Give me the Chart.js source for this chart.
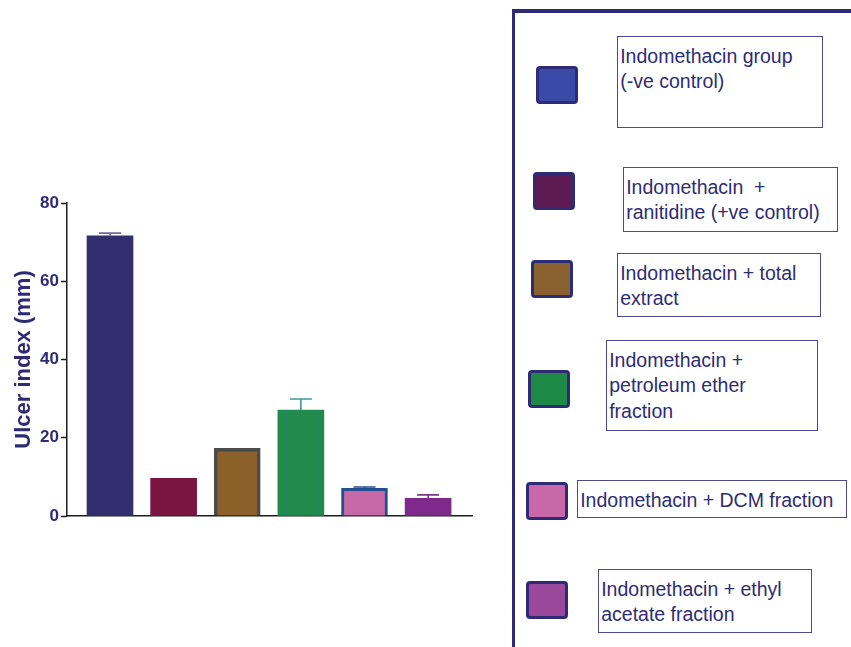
<!DOCTYPE html>
<html>
<head>
<meta charset="utf-8">
<title>Ulcer index</title>
<script src="https://cdn.jsdelivr.net/npm/chart.js@4.4.1/dist/chart.umd.min.js"></script>
<style>
  html, body { margin: 0; padding: 0; background: #fff; }
  #wrap { position: relative; width: 851px; height: 647px; overflow: hidden; }
  #chartBox { position: absolute; left: 0; top: 0; width: 500px; height: 647px; }
  .rule { position: absolute; background: #2e2a78; }
  .sw { position: absolute; box-sizing: border-box; width: 42px; height: 38px;
        border: 3.5px solid #2e2a76; border-radius: 4px; }
  .lbl { position: absolute; box-sizing: border-box; border: 1.5px solid #4b4990;
         padding: 6.6px 0 0 2.2px; font-family: "Liberation Sans", Arial, sans-serif;
         font-size: 19.5px; line-height: 25.5px; color: #2e2c72; white-space: pre; }
</style>
</head>
<body>
<div id="wrap">
  <div id="chartBox"><canvas id="chart"></canvas></div>
  <div class="rule" style="left:511.7px; top:9.3px; width:3.3px; height:640px;"></div>
  <div class="rule" style="left:511.7px; top:9.3px; width:340px; height:3.3px;"></div>
  <div id="legend"></div>
</div>
<script>
// groups as written in the legend (line breaks as in the boxes)
const groups = [
  "Indomethacin group\n(-ve control)",
  "Indomethacin  +\nranitidine (+ve control)",
  "Indomethacin + total\nextract",
  "Indomethacin +\npetroleum ether\nfraction",
  "Indomethacin + DCM fraction",
  "Indomethacin + ethyl\nacetate fraction"
];
const ulcerIndex = [71.6, 9.6, 17.3, 27.1, 7.1, 4.5];
const sem = [0.7, 0, 0, 2.8, 0.3, 0.9];
const yTicks = [0, 20, 40, 60, 80];

const barFill = ["#332f6f", "#7a1542", "#8b6029", "#1f8c47", "#c768a9", "#7d2a8b"];
const barEdge = ["#332f6f", "#7a1542", "#4b4b4b", "#1f8c47", "#24508f", "#7d2a8b"];
const barEdgeWidth = [0, 0, 3.5, 0, 3, 0];
const errColor = ["#6d6aa8", "#7a1542", "#4b4b4b", "#3a9a9a", "#24508f", "#7a3a8c"];
const swatchFill = ["#3a4aa8", "#5e1a52", "#8a6230", "#1f8a48", "#c868a8", "#9a489c"];

// legend placement (page px)
const legendLayout = [
  { sw: [536, 66],  box: [617, 36, 206, 92] },
  { sw: [533, 172], box: [623, 167, 215, 65] },
  { sw: [531, 260], box: [617, 253, 204, 64] },
  { sw: [528, 370], box: [606, 340, 212, 91] },
  { sw: [526, 482], box: [577, 480, 270, 38] },
  { sw: [526, 581], box: [598, 569, 214, 64] }
];

const legend = document.getElementById("legend");
groups.forEach((g, i) => {
  const L = legendLayout[i];
  const sw = document.createElement("div");
  sw.className = "sw";
  sw.style.left = L.sw[0] + "px";
  sw.style.top = L.sw[1] + "px";
  sw.style.background = swatchFill[i];
  legend.appendChild(sw);

  const box = document.createElement("div");
  box.className = "lbl";
  box.style.left = L.box[0] + "px";
  box.style.top = L.box[1] + "px";
  box.style.width = L.box[2] + "px";
  box.style.height = L.box[3] + "px";
  box.textContent = g;
  legend.appendChild(box);
});

// thin vertical stripes seen on the green bar
function stripes(base, line) {
  const c = document.createElement("canvas");
  c.width = 15; c.height = 4;
  const g = c.getContext("2d");
  g.fillStyle = base; g.fillRect(0, 0, 15, 4);
  g.fillStyle = line; g.fillRect(1.2, 0, 1.1, 4); g.fillRect(8.7, 0, 1.1, 4);
  return g.createPattern(c, "repeat");
}

const errorBars = {
  id: "errorBars",
  afterDatasetsDraw(chart) {
    const { ctx, scales: { y } } = chart;
    const meta = chart.getDatasetMeta(0);
    ctx.save();
    ctx.lineWidth = 1.6;
    meta.data.forEach((bar, i) => {
      if (!sem[i]) return;
      const top = y.getPixelForValue(ulcerIndex[i] + sem[i]);
      ctx.strokeStyle = errColor[i];
      ctx.beginPath();
      ctx.moveTo(bar.x, bar.y);
      ctx.lineTo(bar.x, top);
      ctx.moveTo(bar.x - 11, top);
      ctx.lineTo(bar.x + 11, top);
      ctx.stroke();
    });
    ctx.restore();
  }
};

const ctx = document.getElementById("chart").getContext("2d");
const fills = barFill.slice();
fills[3] = stripes(barFill[3], "#2d7f6e");

new Chart(ctx, {
  type: "bar",
  data: {
    datasets: [{
      data: ulcerIndex.map((v, i) => ({ x: i, y: v })),
      backgroundColor: fills,
      borderColor: barEdge,
      borderWidth: barEdgeWidth,
      borderSkipped: "start",
      barThickness: 46
    }]
  },
  options: {
    responsive: true,
    maintainAspectRatio: false,
    animation: false,
    layout: { padding: { top: 203, right: 28, bottom: 131, left: 0 } },
    plugins: { legend: { display: false }, tooltip: { enabled: false } },
    scales: {
      x: {
        type: "linear",
        offset: false,
        min: -0.676,
        max: 5.69,
        grid: { display: false, offset: false },
        ticks: { display: false },
        border: { color: "#1c1c1c", width: 1.5 },
        afterFit: (s) => { s.height = 0; }
      },
      y: {
        min: 0,
        max: 80,
        afterBuildTicks: (s) => { s.ticks = yTicks.map((v) => ({ value: v })); },
        grid: { drawOnChartArea: false, tickLength: 6, color: "#1c1c1c", tickWidth: 1.5 },
        border: { color: "#1c1c1c", width: 1.5 },
        ticks: {
          padding: 2,
          color: "#2e2c74",
          font: { family: "Liberation Sans", size: 17, weight: "bold" }
        },
        title: {
          display: true,
          text: "Ulcer index (mm)",
          color: "#2f2b72",
          font: { family: "Liberation Sans", size: 22, weight: "bold" },
          padding: { top: 11, bottom: 0 }
        },
        afterFit: (s) => { s.width = 67; }
      }
    }
  },
  plugins: [errorBars]
});
</script>
</body>
</html>
